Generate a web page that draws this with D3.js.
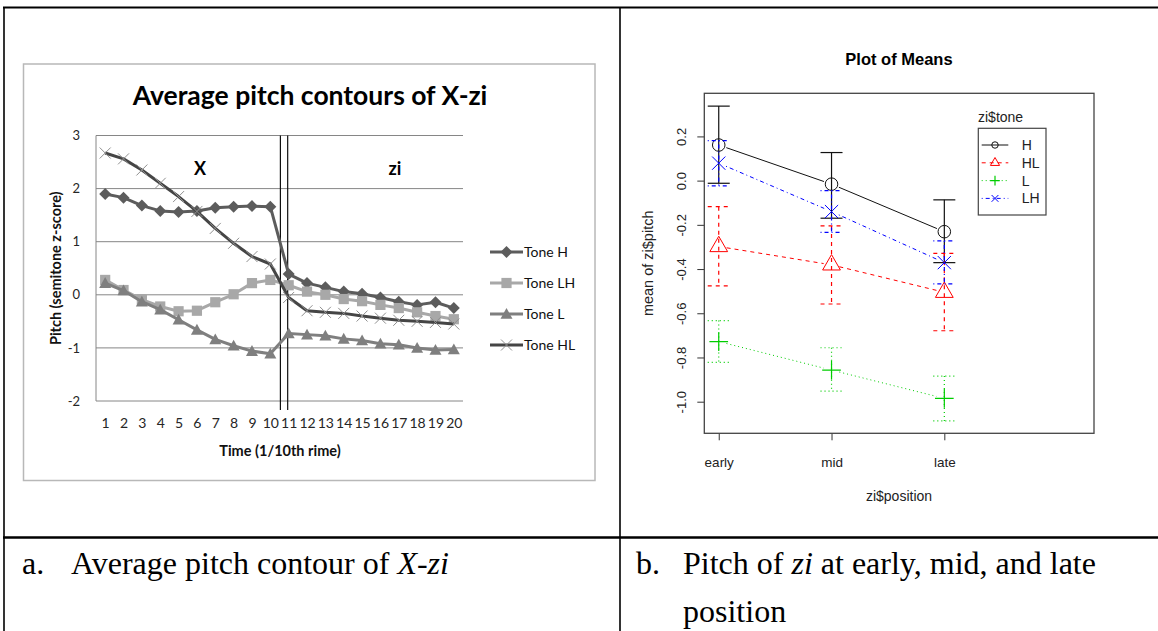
<!DOCTYPE html>
<html>
<head>
<meta charset="utf-8">
<script src="https://cdn.jsdelivr.net/npm/d3@7"></script>
<style>
  html, body { margin: 0; padding: 0; background: #fff; }
  svg { display: block; }
</style>
</head>
<body>
<svg id="fig" width="1158" height="631"></svg>
<script>
// ---------- Panel a: average pitch contours of X-zi ----------
const timeLabels = ["1","2","3","4","5","6","7","8","9","10","11","12","13","14","15","16","17","18","19","20"];
const toneH  = [1.90, 1.83, 1.68, 1.58, 1.56, 1.58, 1.64, 1.66, 1.67, 1.66, 0.39, 0.22, 0.14, 0.06, 0.02, -0.05, -0.13, -0.19, -0.14, -0.25];
const toneLH = [0.28, 0.09, -0.09, -0.22, -0.31, -0.30, -0.14, 0.01, 0.22, 0.28, 0.18, 0.06, 0.00, -0.08, -0.12, -0.19, -0.25, -0.33, -0.40, -0.46];
const toneL  = [0.22, 0.08, -0.13, -0.28, -0.47, -0.66, -0.84, -0.96, -1.06, -1.11, -0.73, -0.75, -0.77, -0.83, -0.86, -0.92, -0.94, -1.00, -1.04, -1.03];
const toneHL = [2.67, 2.56, 2.35, 2.10, 1.85, 1.57, 1.25, 0.97, 0.72, 0.58, -0.05, -0.30, -0.33, -0.35, -0.40, -0.44, -0.48, -0.50, -0.52, -0.55];
const contourTicks = [3, 2, 1, 0, -1, -2];
const contourNames = ["Tone H", "Tone LH", "Tone L", "Tone HL"];

// ---------- Panel b: plot of means of zi ----------
const positions = ["early", "mid", "late"];
const toneNames = ["H", "HL", "L", "LH"];
const meanH   = [0.161, -0.016, -0.231];
const upperH  = [0.337, 0.127, -0.087];
const lowerH  = [-0.012, -0.170, -0.371];
const meanHL  = [-0.298, -0.381, -0.505];
const upperHL = [-0.118, -0.205, -0.329];
const lowerHL = [-0.476, -0.558, -0.679];
const meanL   = [-0.728, -0.857, -0.985];
const upperL  = [-0.633, -0.756, -0.884];
const lowerL  = [-0.822, -0.952, -1.087];
const meanLH  = [0.079, -0.140, -0.371];
const upperLH = [0.181, -0.045, -0.273];
const lowerLH = [-0.024, -0.234, -0.467];
const meansTicks = [-1.0, -0.8, -0.6, -0.4, -0.2, 0.0, 0.2];

const svg = d3.select("#fig");
svg.append("rect").attr("width", 1158).attr("height", 631).attr("fill", "#fff");

// ---------- table frame ----------
const frame = svg.append("g").attr("stroke", "#000").attr("fill", "none");
frame.append("line").attr("x1", 3).attr("x2", 1158).attr("y1", 7.5).attr("y2", 7.5).attr("stroke-width", 2.2);
frame.append("line").attr("x1", 4).attr("x2", 4).attr("y1", 7).attr("y2", 631).attr("stroke-width", 1.6);
frame.append("line").attr("x1", 620).attr("x2", 620).attr("y1", 7).attr("y2", 631).attr("stroke-width", 1.6);
frame.append("line").attr("x1", 3).attr("x2", 1158).attr("y1", 537.5).attr("y2", 537.5).attr("stroke-width", 2.6);

// captions
const cap = svg.append("g").attr("font-family", "'Liberation Serif', 'Times New Roman', serif")
  .attr("font-size", 32).attr("fill", "#000");
cap.append("text").attr("x", 22).attr("y", 574).text("a.");
const ta = cap.append("text").attr("x", 71).attr("y", 574);
ta.append("tspan").text("Average pitch contour of ");
ta.append("tspan").attr("font-style", "italic").text("X-zi");
cap.append("text").attr("x", 636).attr("y", 574).text("b.");
const tb = cap.append("text").attr("x", 683).attr("y", 574);
tb.append("tspan").text("Pitch of ");
tb.append("tspan").attr("font-style", "italic").text("zi");
tb.append("tspan").text(" at early, mid, and late");
cap.append("text").attr("x", 683).attr("y", 622).text("position");

// ================= Panel a =================
const ga = svg.append("g").attr("font-family", "Lato, 'Open Sans', sans-serif");
ga.append("rect").attr("x", 23.5).attr("y", 64).attr("width", 571.5).attr("height", 416.5)
  .attr("fill", "#fff").attr("stroke", "#b8b8b8").attr("stroke-width", 1.5);

const xE = d3.scalePoint().domain(timeLabels).range([96, 463]).padding(0.5);
const yE = d3.scaleLinear().domain([-2, 3]).range([401, 135.5]);

// gridlines
ga.append("g").selectAll("line").data(contourTicks).join("line")
  .attr("x1", 96).attr("x2", 463)
  .attr("y1", d => yE(d)).attr("y2", d => yE(d))
  .attr("stroke", "#868686").attr("stroke-width", 1);
ga.append("line").attr("x1", 96).attr("x2", 96).attr("y1", yE(3)).attr("y2", yE(-2))
  .attr("stroke", "#868686").attr("stroke-width", 1);

// axes
const yAxA = ga.append("g").attr("transform", "translate(96,0)")
  .call(d3.axisLeft(yE).tickValues(contourTicks).tickSize(0).tickPadding(16).tickFormat(d => String(d)));
yAxA.select(".domain").remove();
yAxA.selectAll("text").attr("font-size", 13).attr("fill", "#262626").attr("font-family", "Lato, sans-serif");

const xAxA = ga.append("g").attr("transform", `translate(0,${yE(-2)})`)
  .call(d3.axisBottom(xE).tickSize(0).tickPadding(17));
xAxA.select(".domain").remove();
xAxA.selectAll("text").attr("font-size", 14).attr("fill", "#262626").attr("font-family", "Lato, sans-serif");

// boundary between X and zi
const boundary = (xE("10") + xE("11")) / 2;
[boundary + 0.9, xE("11") - 1].forEach(bx => {
  ga.append("line").attr("x1", bx).attr("x2", bx).attr("y1", yE(3)).attr("y2", yE(-2) + 9)
    .attr("stroke", "#111").attr("stroke-width", 1.2);
});

// titles
ga.append("text").attr("x", 310).attr("y", 105).attr("text-anchor", "middle")
  .attr("font-size", 26.5).attr("font-weight", "bold").attr("fill", "#000")
  .text("Average pitch contours of X-zi");
ga.append("text").attr("x", 200).attr("y", 175).attr("text-anchor", "middle")
  .attr("font-size", 18).attr("font-weight", "bold").text("X");
ga.append("text").attr("x", 395).attr("y", 175).attr("text-anchor", "middle")
  .attr("font-size", 18).attr("font-weight", "bold").text("zi");
ga.append("text").attr("transform", `translate(61,${(yE(3) + yE(-2)) / 2}) rotate(-90)`)
  .attr("text-anchor", "middle").attr("font-size", 14.5).attr("font-weight", "bold").attr("fill", "#111")
  .text("Pitch (semitone z-score)");
ga.append("text").attr("x", 280).attr("y", 456).attr("text-anchor", "middle")
  .attr("font-size", 14.5).attr("font-weight", "bold").attr("fill", "#111")
  .text("Time (1/10th rime)");

// marker painters
function drawMarker(sel, kind, color, s) {
  if (kind === "diamond") {
    sel.append("path").attr("d", `M0,${-s}L${s},0L0,${s}L${-s},0Z`).attr("fill", color);
  } else if (kind === "square") {
    sel.append("rect").attr("x", -s * 0.85).attr("y", -s * 0.85).attr("width", s * 1.7).attr("height", s * 1.7).attr("fill", color);
  } else if (kind === "triangle") {
    sel.append("path").attr("d", `M0,${-s}L${s},${s * 0.8}L${-s},${s * 0.8}Z`).attr("fill", color);
  } else if (kind === "cross") {
    sel.append("path").attr("d", `M${-s},${-s}L${s},${s}M${-s},${s}L${s},${-s}`)
      .attr("stroke", color).attr("stroke-width", 1).attr("fill", "none");
  }
}

const contourSeries = [
  { name: contourNames[0], values: toneH,  line: "#5c5c5c", mark: "#5c5c5c", kind: "diamond",  size: 6 },
  { name: contourNames[1], values: toneLH, line: "#a8a8a8", mark: "#a8a8a8", kind: "square",   size: 6 },
  { name: contourNames[2], values: toneL,  line: "#7f7f7f", mark: "#7f7f7f", kind: "triangle", size: 6 },
  { name: contourNames[3], values: toneHL, line: "#454545", mark: "#8f8f8f", kind: "cross",    size: 5.5 }
];

const lineE = d3.line().x((d, i) => xE(timeLabels[i])).y(d => yE(d));
contourSeries.forEach(s => {
  const g = ga.append("g");
  g.append("path").datum(s.values).attr("d", lineE).attr("fill", "none")
    .attr("stroke", s.line).attr("stroke-width", 3).attr("stroke-linejoin", "round");
  s.values.forEach((v, i) => {
    const m = g.append("g").attr("transform", `translate(${xE(timeLabels[i])},${yE(v)})`);
    drawMarker(m, s.kind, s.mark, s.size);
  });
});

// legend
const legA = ga.append("g");
contourSeries.forEach((s, i) => {
  const ly = 252 + i * 31;
  legA.append("line").attr("x1", 490).attr("x2", 523).attr("y1", ly).attr("y2", ly)
    .attr("stroke", s.line).attr("stroke-width", 3);
  const m = legA.append("g").attr("transform", `translate(506.5,${ly})`);
  drawMarker(m, s.kind, s.mark, s.size);
  legA.append("text").attr("x", 524).attr("y", ly + 5).attr("font-size", 14).attr("fill", "#111").text(s.name);
});

// ================= Panel b =================
const gb = svg.append("g").attr("font-family", "'Liberation Sans', Arial, sans-serif");
const xR = d3.scaleLinear().domain([0.872, 4.327]).range([704.3, 1094]);
const yR = d3.scaleLinear().domain([-1.143, 0.395]).range([433.3, 93.3]);

gb.append("text").attr("x", 899).attr("y", 65).attr("text-anchor", "middle")
  .attr("font-size", 16.5).attr("font-weight", "bold").attr("fill", "#000").text("Plot of Means");

const yAxB = gb.append("g").attr("transform", `translate(${xR.range()[0]},0)`)
  .call(d3.axisLeft(yR).tickValues(meansTicks).tickSize(7).tickFormat(d => d.toFixed(1)));
yAxB.select(".domain").remove();
yAxB.selectAll("line").attr("stroke", "#333");
yAxB.selectAll("text").attr("transform", "rotate(-90)").attr("x", 0).attr("y", -18)
  .attr("dy", null).attr("text-anchor", "middle").attr("font-size", 13).attr("fill", "#222")
  .attr("font-family", "'Liberation Sans', Arial, sans-serif");

const xAxB = gb.append("g").attr("transform", `translate(0,${yR.range()[0]})`)
  .call(d3.axisBottom(xR).tickValues([1, 2, 3]).tickSize(7).tickPadding(17).tickFormat((d, i) => positions[i]));
xAxB.select(".domain").remove();
xAxB.selectAll("line").attr("stroke", "#333");
xAxB.selectAll("text").attr("font-size", 13.5).attr("fill", "#222")
  .attr("font-family", "'Liberation Sans', Arial, sans-serif");

gb.append("rect").attr("x", xR.range()[0]).attr("y", yR.range()[1])
  .attr("width", xR.range()[1] - xR.range()[0]).attr("height", yR.range()[0] - yR.range()[1])
  .attr("fill", "none").attr("stroke", "#444").attr("stroke-width", 1.3);

gb.append("text").attr("x", 899).attr("y", 501).attr("text-anchor", "middle")
  .attr("font-size", 14).attr("fill", "#222").text("zi$position");
gb.append("text").attr("transform", `translate(653,${(yR.range()[0] + yR.range()[1]) / 2}) rotate(-90)`)
  .attr("text-anchor", "middle").attr("font-size", 14.5).attr("fill", "#222").text("mean of zi$pitch");

function drawPch(sel, kind, color, u) {
  if (kind === "circle") {
    sel.append("circle").attr("r", u * 0.95).attr("fill", "none").attr("stroke", color).attr("stroke-width", 1);
  } else if (kind === "triangle") {
    sel.append("path").attr("d", `M0,${-1.555 * u}L${1.347 * u},${0.778 * u}L${-1.347 * u},${0.778 * u}Z`)
      .attr("fill", "none").attr("stroke", color).attr("stroke-width", 1);
  } else if (kind === "plus") {
    const a = 1.414 * u;
    sel.append("path").attr("d", `M${-a},0L${a},0M0,${-a}L0,${a}`).attr("stroke", color).attr("stroke-width", 1.2);
  } else if (kind === "x") {
    sel.append("path").attr("d", `M${-u},${-u}L${u},${u}M${-u},${u}L${u},${-u}`).attr("stroke", color).attr("stroke-width", 1);
  }
}

const meansSeries = [
  { name: toneNames[0], mean: meanH,  upper: upperH,  lower: lowerH,  color: "#111111", dash: null,      kind: "circle" },
  { name: toneNames[1], mean: meanHL, upper: upperHL, lower: lowerHL, color: "#ff0000", dash: "4,4",     kind: "triangle" },
  { name: toneNames[2], mean: meanL,  upper: upperL,  lower: lowerL,  color: "#00cd00", dash: "1,3",     kind: "plus" },
  { name: toneNames[3], mean: meanLH, upper: upperLH, lower: lowerLH, color: "#0000ff", dash: "1,3,4,3", kind: "x" }
];

const capHalf = 11, gap = 8, U = 6.6;
meansSeries.forEach(s => {
  const g = gb.append("g");
  const pts = s.mean.map((v, i) => [xR(i + 1), yR(v)]);
  // connecting segments, leaving a gap around each point
  for (let i = 0; i < pts.length - 1; i++) {
    const [x0, y0] = pts[i], [x1, y1] = pts[i + 1];
    const len = Math.hypot(x1 - x0, y1 - y0);
    const ux = (x1 - x0) / len, uy = (y1 - y0) / len;
    g.append("line").attr("x1", x0 + ux * gap).attr("y1", y0 + uy * gap)
      .attr("x2", x1 - ux * gap).attr("y2", y1 - uy * gap)
      .attr("stroke", s.color).attr("stroke-width", 1).attr("stroke-dasharray", s.dash);
  }
  // error bars
  s.mean.forEach((v, i) => {
    const x = xR(i + 1), yu = yR(s.upper[i]), yl = yR(s.lower[i]);
    const eb = g.append("g").attr("stroke", s.color).attr("stroke-width", 1.2).attr("stroke-dasharray", s.dash);
    eb.append("line").attr("x1", x).attr("x2", x).attr("y1", yu).attr("y2", yl);
    eb.append("line").attr("x1", x - capHalf).attr("x2", x + capHalf).attr("y1", yu).attr("y2", yu);
    eb.append("line").attr("x1", x - capHalf).attr("x2", x + capHalf).attr("y1", yl).attr("y2", yl);
  });
  pts.forEach(p => {
    drawPch(g.append("g").attr("transform", `translate(${p[0]},${p[1]})`), s.kind, s.color, U);
  });
});

// legend for panel b
gb.append("text").attr("x", 978).attr("y", 122).attr("font-size", 14).attr("fill", "#222").text("zi$tone");
gb.append("rect").attr("x", 978.3).attr("y", 128.3).attr("width", 67.7).attr("height", 86.7)
  .attr("fill", "#fff").attr("stroke", "#444").attr("stroke-width", 1.2);
meansSeries.forEach((s, i) => {
  const ly = 145 + i * 17.8;
  gb.append("line").attr("x1", 981.7).attr("x2", 1008.3).attr("y1", ly).attr("y2", ly)
    .attr("stroke", s.color).attr("stroke-width", 1).attr("stroke-dasharray", s.dash);
  drawPch(gb.append("g").attr("transform", `translate(995,${ly})`), s.kind, s.color, 3.4);
  gb.append("text").attr("x", 1021.7).attr("y", ly + 5).attr("font-size", 14).attr("fill", "#222").text(s.name);
});
</script>
</body>
</html>
